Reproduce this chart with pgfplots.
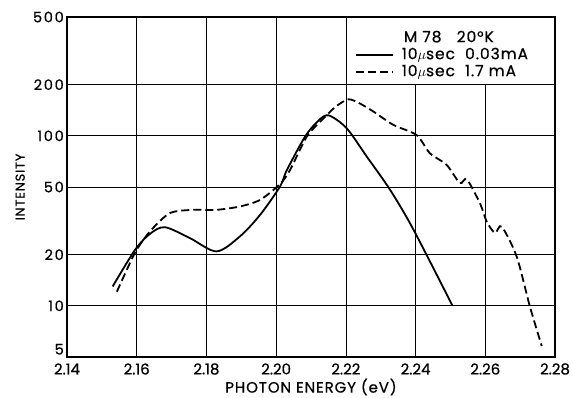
\documentclass[border=0pt]{standalone}
\usepackage{pgfplots}
\pgfplotsset{compat=1.18}
\usepackage{fontspec}
\setmainfont{Poppins}
\newfontfamily\wideA{Poppins}[LetterSpace=12, FakeBold=0.6]
\newfontfamily\wideB{Poppins}[LetterSpace=6, FakeBold=0.6]
\newfontfamily\wideC{Poppins}[FakeBold=0.6]
\begin{document}
\begin{tikzpicture}[x=1pt,y=1pt]
\useasboundingbox (-67,-40) rectangle (506,357);
\begin{axis}[
  at={(0,0)}, anchor=south west,
  scale only axis, width=488pt, height=340pt,
  xmin=2.14, xmax=2.28,
  ymode=log, ymin=5, ymax=500,
  xtick={2.14,2.16,...,2.28},
  ytick={5,10,20,50,100,200,500},
  yticklabels={\raisebox{2.5pt}[0pt][0pt]{5},10,20,50,100,200,500},
  xticklabel style={/pgf/number format/fixed, /pgf/number format/fixed zerofill, /pgf/number format/precision=2,
     anchor=center, yshift=-12pt, font=\wideC\fontsize{15}{16}\selectfont},
  /pgf/number format/assume math mode=true,
  major tick length=0pt,
  grid=major,
  major grid style={black, line width=0.7pt},
  axis line style={black, line width=1.3pt},
  yticklabel style={anchor=east, xshift=-3pt, inner sep=0pt, font=\wideA\fontsize{14.5}{15}\selectfont},
  every axis x label/.style={at={(axis description cs:0.5,0)}, yshift=-30pt, anchor=center},
  every axis y label/.style={at={(axis description cs:-0.096,0.5)}, rotate=90, anchor=center},
  xlabel style={font=\wideB\fontsize{15}{16}\selectfont},
  ylabel style={font=\wideB\fontsize{13}{14}\selectfont},
  xlabel={PHOTON ENERGY (eV)},
  ylabel={INTENSITY},
  legend style={draw=none, fill=none, at={(axis cs:2.2226,500)}, anchor=north west, yshift=-14pt,
    font=\wideB\fontsize{15.5}{16}\selectfont, inner sep=0pt, row sep=3pt, column sep=8pt,
    nodes={inner sep=0pt, text height=11pt, text depth=3pt},
    legend image code/.code={\draw[#1] (0pt,0pt) -- (37pt,0pt);}},
  legend cell align=left,
]
\fill[white] (axis cs:2.2203,202) rectangle (axis cs:2.2795,495);
\addlegendimage{empty legend}
\addlegendentry{\hspace{2pt}M 78\ \ \ 20°K}
\addplot[black, line width=1.8pt, smooth] coordinates {
(2.1531,13.0) (2.1595,21.3) (2.1638,26.5) (2.1681,29.0) (2.1753,25.0)
(2.1829,20.9) (2.1896,25.6) (2.1954,34.3) (2.2011,50.3) (2.2031,63)
(2.2083,99) (2.2120,122) (2.2150,132) (2.2202,111) (2.2260,75.5)
(2.2327,48.1) (2.2393,28.3) (2.2505,10.1)
};
\addlegendentry{10$\mu$sec\ \ 0.03mA}
\addplot[black, line width=1.8pt, dash pattern=on 8pt off 4pt, smooth, tension=0.45] coordinates {
(2.1543,12.1) (2.1595,20.5) (2.1638,27.4) (2.1695,35.1) (2.1762,36.7)
(2.1829,36.7) (2.1896,38.4) (2.1954,42) (2.2011,52) (2.2040,63)
(2.2088,99) (2.2135,126) (2.2170,148) (2.2207,164) (2.2240,155)
(2.2279,139) (2.2336,116) (2.2403,101) (2.2441,79) (2.2489,67.5)
(2.2527,52.7) (2.2547,55.5) (2.2585,40) (2.2604,31.3) (2.2628,26.8)
(2.2647,29.3) (2.2690,19.5) (2.2728,9.9) (2.2762,5.8)
};
\addlegendentry{10$\mu$sec\ \ 1.7 mA}
\end{axis}
\end{tikzpicture}
\end{document}
